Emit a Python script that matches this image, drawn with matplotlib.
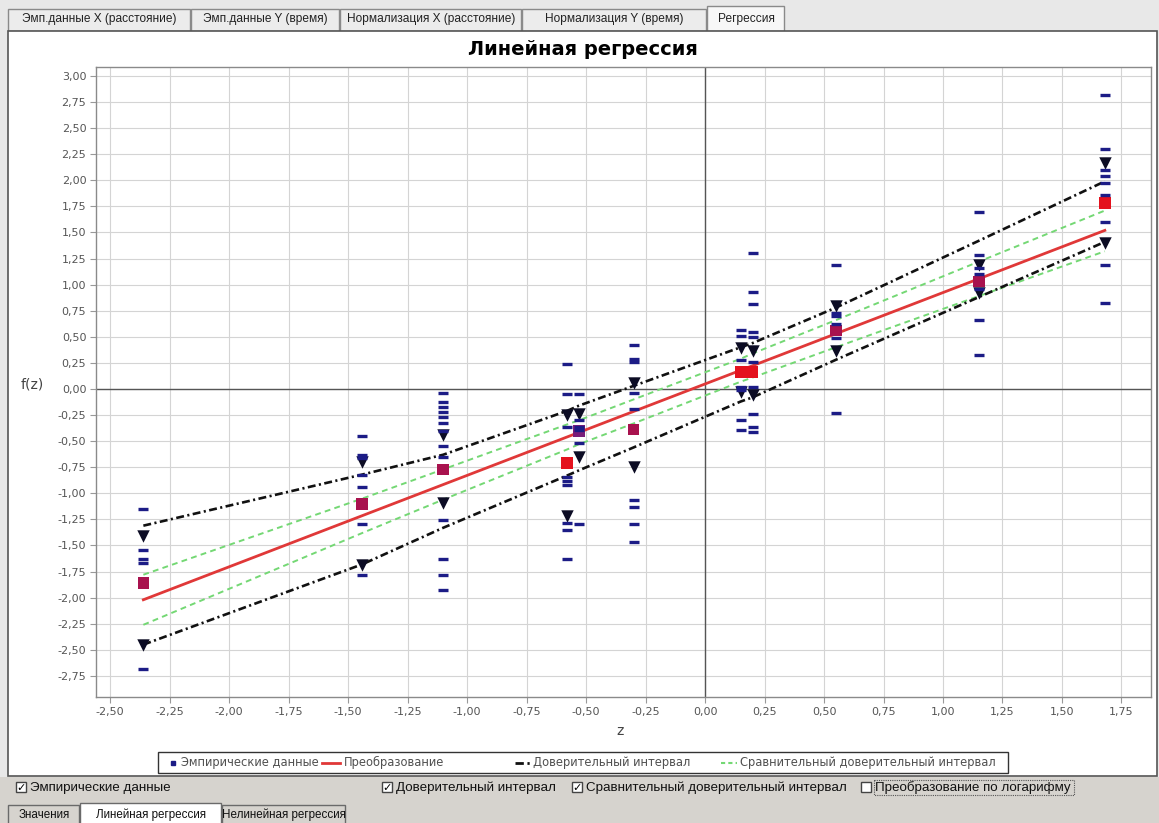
import matplotlib
matplotlib.use("Agg")
import numpy as np
import matplotlib.pyplot as plt
from matplotlib.patches import Rectangle
from matplotlib.ticker import FixedLocator, FuncFormatter

# z positions of the empirical columns
z_cols = [-2.36, -1.44, -1.10, -0.58, -0.53, -0.30, 0.15, 0.20, 0.55, 1.15, 1.68]

# empirical f(z) values in each column
emp_y = [
    [-1.15, -1.54, -1.63, -1.67, -2.68],
    [-0.45, -0.63, -0.66, -0.82, -0.94, -1.29, -1.78],
    [-0.04, -0.12, -0.17, -0.22, -0.27, -0.33, -0.40, -0.55, -0.65, -1.26, -1.63, -1.78, -1.93],
    [0.24, -0.05, -0.36, -0.84, -0.88, -0.92, -1.28, -1.35, -1.63],
    [-0.05, -0.30, -0.36, -0.39, -0.52, -1.29],
    [0.42, 0.29, 0.26, -0.04, -0.19, -1.06, -1.13, -1.29, -1.47],
    [0.57, 0.51, 0.28, 0.02, -0.01, -0.30, -0.39],
    [1.30, 0.93, 0.81, 0.55, 0.50, 0.26, 0.02, -0.24, -0.36, -0.41],
    [1.19, 0.73, 0.70, 0.62, 0.49, -0.23],
    [1.70, 1.28, 1.16, 1.10, 0.96, 0.66, 0.33],
    [2.82, 2.30, 2.10, 2.04, 1.97, 1.86, 1.60, 1.19, 0.82],
]

# column means and the triangle marks above / below them
mean_y = [-1.86, -1.10, -0.77, -0.71, -0.40, -0.39, 0.16, 0.16, 0.56, 1.03, 1.78]
tri_hi = [-1.41, -0.70, -0.44, -0.25, -0.24, 0.06, 0.39, 0.36, 0.80, 1.19, 2.17]
tri_lo = [-2.45, -1.69, -1.09, -1.22, -0.65, -0.75, -0.03, -0.06, 0.36, 0.92, 1.40]

# regression line and intervals
reg_z = [-2.36, 1.68]
reg_f = [-2.02, 1.52]
ci_hi = [-1.31, -0.82, -0.63, -0.21, -0.16, 0.03, 0.40, 0.44, 0.78, 1.42, 1.99]
ci_lo = [-2.45, -1.68, -1.33, -0.83, -0.78, -0.56, -0.12, -0.08, 0.28, 0.88, 1.41]
cmp_hi = [-1.78, -1.05, -0.77, -0.34, -0.30, -0.10, 0.29, 0.34, 0.66, 1.22, 1.71]
cmp_lo = [-2.26, -1.38, -1.06, -0.58, -0.53, -0.33, 0.07, 0.11, 0.40, 0.89, 1.32]

top_tabs = ["Эмп.данные X (расстояние)", "Эмп.данные Y (время)",
            "Нормализация X (расстояние)", "Нормализация Y (время)", "Регрессия"]
bottom_tabs = ["Значения", "Линейная регрессия", "Нелинейная регрессия"]
legend_labels = ["Эмпирические данные", "Преобразование",
                 "Доверительный интервал", "Сравнительный доверительный интервал"]
checkboxes = [("Эмпирические данные", True), ("Доверительный интервал", True),
              ("Сравнительный доверительный интервал", True),
              ("Преобразование по логарифму", False)]

navy = "#1c1c86"
red = "#e03838"
green = "#74d874"
dashdot = (0, (3.0, 1.3, 0.8, 1.3))
gui_font = ["Liberation Sans", "DejaVu Sans"]

W, H = 1159, 823
fig = plt.figure(figsize=(W / 100, H / 100), dpi=100)
fig.patch.set_facecolor("#e8e8e8")

# pixel-space background layer for the window chrome
bg = fig.add_axes([0, 0, 1, 1])
bg.set_xlim(0, W)
bg.set_ylim(H, 0)
bg.axis("off")

# top tabs
tab_x = [8, 191, 340, 522, 707, 785]
for i, name in enumerate(top_tabs):
    sel = i == len(top_tabs) - 1
    y0 = 6 if sel else 9
    bg.add_patch(Rectangle((tab_x[i], y0), tab_x[i + 1] - tab_x[i] - 1, 31 - y0,
                           facecolor="#f7f7f7" if sel else "#ececec",
                           edgecolor="#8a8a8a", lw=1))
    bg.text((tab_x[i] + tab_x[i + 1]) / 2, 19, name, ha="center", va="center",
            fontsize=8.6, color="#222222", family=gui_font)

# chart panel
bg.add_patch(Rectangle((8, 31), 1149, 745, facecolor="white", edgecolor="#555555", lw=1.2))
bg.text(583, 49, "Линейная регрессия", ha="center", va="center",
        fontsize=14, fontweight="bold", color="black")
bg.text(620, 731, "z", ha="center", va="center", fontsize=10, color="#444444")
bg.text(32, 384, "f(z)", ha="center", va="center", fontsize=10, color="#444444")

# legend box
bg.add_patch(Rectangle((158, 752), 850, 21, facecolor="white", edgecolor="#333333", lw=1))
ly = 762.5
bg.plot([173], [ly], ls="none", marker="s", ms=3.5, color=navy)
bg.plot([322, 340], [ly, ly], color=red, lw=2)
bg.plot([515, 531], [ly, ly], color="#111111", lw=2, ls=dashdot)
bg.plot([721, 737], [ly, ly], color=green, lw=1.5, ls=(0, (2, 1.5)))
for x, lab in zip([181, 344, 533, 740], legend_labels):
    bg.text(x, ly, lab, ha="left", va="center", fontsize=8.3, color="#505050")

# control panel with checkboxes
bg.add_patch(Rectangle((0, 777), W, 46, facecolor="#d6d3ce", edgecolor="none"))
for (lab, on), x in zip(checkboxes, [16, 382, 572, 861]):
    bg.add_patch(Rectangle((x, 782), 10, 10, facecolor="white", edgecolor="#444444", lw=1))
    if on:
        bg.text(x + 5, 787.5, "✓", ha="center", va="center", fontsize=8,
                fontweight="bold", color="black")
    bg.text(x + 14, 787.5, lab, ha="left", va="center", fontsize=9.6,
            color="#111111", family=gui_font)
bg.add_patch(Rectangle((874, 780), 200, 15, facecolor="none", edgecolor="#555555",
                       lw=0.8, ls=(0, (1, 1))))

# bottom tabs
btab_x = [8, 80, 222, 346]
for i, name in enumerate(bottom_tabs):
    sel = i == 1
    bg.add_patch(Rectangle((btab_x[i], 803 if sel else 805), btab_x[i + 1] - btab_x[i] - 1, 22,
                           facecolor="#ffffff" if sel else "#d6d3ce",
                           edgecolor="#6a6a6a", lw=1))
    bg.text((btab_x[i] + btab_x[i + 1]) / 2, 815, name, ha="center", va="center",
            fontsize=8.4, color="#111111", family=gui_font)

# main plot
ax = fig.add_axes([96 / W, 1 - 697 / H, (1151 - 96) / W, (697 - 67) / H])
ax.set_facecolor("white")
ax.set_xlim(-2.559, 1.874)
ax.set_ylim(-2.952, 3.086)

xt = np.round(np.arange(-2.5, 1.76, 0.25), 2)
yt = np.round(np.arange(-2.75, 3.01, 0.25), 2)
fmt = FuncFormatter(lambda v, p: f"{round(v, 2) + 0.0:.2f}".replace(".", ","))
ax.xaxis.set_major_locator(FixedLocator(xt))
ax.yaxis.set_major_locator(FixedLocator(yt))
ax.xaxis.set_major_formatter(fmt)
ax.yaxis.set_major_formatter(fmt)
ax.tick_params(direction="out", length=4, color="#999999", labelcolor="#555555",
               labelsize=8, pad=3)
ax.grid(True, color="#d4d4d4", lw=0.8)
ax.set_axisbelow(True)
for sp in ax.spines.values():
    sp.set_color("#8a8a8a")
    sp.set_linewidth(1)
ax.axhline(0, color="#555555", lw=1, zorder=1)
ax.axvline(0, color="#555555", lw=1, zorder=1)

ax.plot(z_cols, cmp_hi, color=green, lw=1.4, ls=(0, (3, 2.2)), zorder=2)
ax.plot(z_cols, cmp_lo, color=green, lw=1.4, ls=(0, (3, 2.2)), zorder=2)
ax.plot(z_cols, ci_hi, color="#111111", lw=1.9, ls=dashdot, zorder=3)
ax.plot(z_cols, ci_lo, color="#111111", lw=1.9, ls=dashdot, zorder=3)
ax.plot(reg_z, reg_f, color=red, lw=2, zorder=3)

sq_colors = ["#a8124e", "#a8124e", "#a8124e", "#e4121e", "#7a1c7a", "#a8124e",
             "#e4121e", "#e4121e", "#a8124e", "#a8124e", "#e4121e"]
ax.scatter(z_cols, mean_y, marker="s", s=70, c=sq_colors, zorder=4, linewidths=0)
ax.scatter(z_cols + z_cols, tri_hi + tri_lo, marker="v", s=80, c="#0c0c24",
           zorder=5, linewidths=0)
for z, ys in zip(z_cols, emp_y):
    ax.plot([z] * len(ys), ys, ls="none", marker="_", ms=6.5, mew=2.4,
            color=navy, zorder=6)

fig.savefig("out.png", dpi=100, facecolor=fig.get_facecolor())
